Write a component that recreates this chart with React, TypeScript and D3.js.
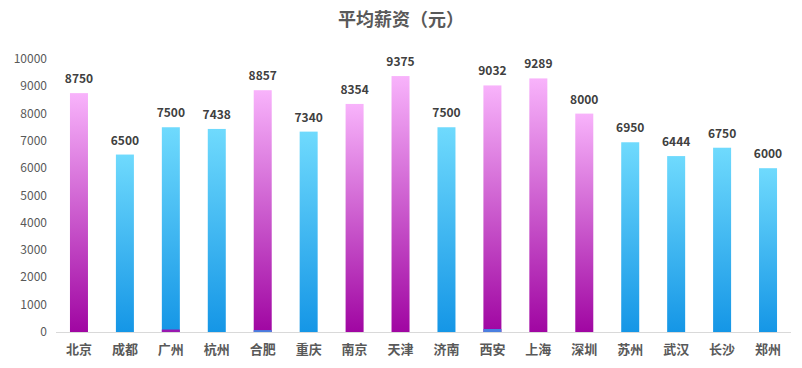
import React from "react";
import * as d3 from "d3";

// chart values
const cities = ["北京", "成都", "广州", "杭州", "合肥", "重庆", "南京", "天津", "济南", "西安", "上海", "深圳", "苏州", "武汉", "长沙", "郑州"];
const salary = [8750, 6500, 7500, 7438, 8857, 7340, 8354, 9375, 7500, 9032, 9289, 8000, 6950, 6444, 6750, 6000];
// tiny stub of the other colour seen at the foot of a few bars
const stub = [0, 0, 90, 0, 70, 0, 0, 0, 0, 110, 0, 0, 0, 0, 0, 0];
const yTicks = [0, 1000, 2000, 3000, 4000, 5000, 6000, 7000, 8000, 9000, 10000];

const W = 802, H = 368;
const margin = {top: 59, right: 11, bottom: 36, left: 56};
const font = "'Microsoft YaHei', 'Noto Sans CJK SC', sans-serif";

export default function App() {
  let x = d3.scaleBand().domain(cities).range([margin.left, W - margin.right]).paddingInner(0.6).paddingOuter(0.3);
  let y = d3.scaleLinear().domain([0, 10000]).range([H - margin.bottom, margin.top]);
  let barW = 18;

  return (
    <svg width={W} height={H} style={{position: "absolute", left: 0, top: 0}} fontFamily={font}>
      <defs>
        <linearGradient id="pink" x1="0" y1="0" x2="0" y2="1">
          <stop offset="0%" stopColor="#f8b3fb" />
          <stop offset="100%" stopColor="#a006a2" />
        </linearGradient>
        <linearGradient id="blue" x1="0" y1="0" x2="0" y2="1">
          <stop offset="0%" stopColor="#6fdafd" />
          <stop offset="100%" stopColor="#1596e6" />
        </linearGradient>
      </defs>
      <text x={W / 2} y={26} textAnchor="middle" fontSize={18} fontWeight="bold" fill="#595959">平均薪资（元）</text>
      {yTicks.map((t) => (
        <text key={t} x={47} y={y(t) + 4} textAnchor="end" fontSize={12} fill="#595959">{t}</text>
      ))}
      <line x1={margin.left} x2={W - margin.right} y1={y(0) + 0.5} y2={y(0) + 0.5} stroke="#d9d9d9" strokeWidth={1} />
      {cities.map((c, i) => {
        let cx = x(c)! + x.bandwidth() / 2;
        let v = salary[i];
        let high = v >= 8000;
        let s = stub[i];
        return (
          <g key={c}>
            <rect x={cx - barW / 2} y={y(v)} width={barW} height={y(0) - y(v)} fill={high ? "url(#pink)" : "url(#blue)"} />
            {s > 0 && (
              <rect x={cx - barW / 2} y={y(s)} width={barW} height={y(0) - y(s)} fill={high ? "#4a7fe0" : "#9a18b0"} />
            )}
            <text x={cx} y={y(v) - 10} textAnchor="middle" fontSize={12} fontWeight="bold" fill="#404040">{v}</text>
            <text x={cx} y={H - 14} textAnchor="middle" fontSize={13} fontWeight="bold" fill="#595959">{c}</text>
          </g>
        );
      })}
    </svg>
  );
}
